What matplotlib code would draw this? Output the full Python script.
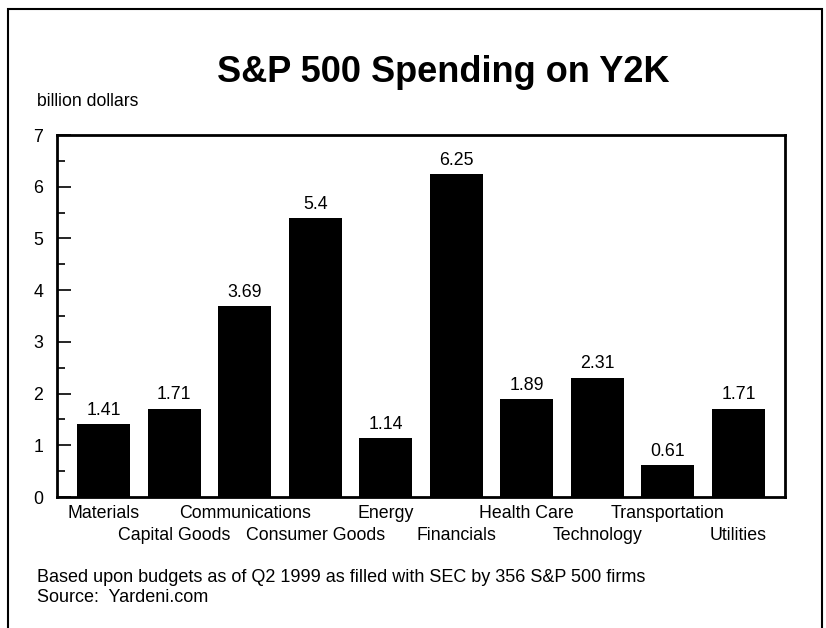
import matplotlib
matplotlib.use("Agg")
import matplotlib.pyplot as plt
from matplotlib.patches import Rectangle
from matplotlib.transforms import blended_transform_factory
import numpy as np

plt.rcParams['font.family'] = ['Liberation Sans', 'DejaVu Sans']

categories = ["Materials", "Capital Goods", "Communications", "Consumer Goods", "Energy",
              "Financials", "Health Care", "Technology", "Transportation", "Utilities"]
values = [1.41, 1.71, 3.69, 5.4, 1.14, 6.25, 1.89, 2.31, 0.61, 1.71]
value_labels = ["1.41", "1.71", "3.69", "5.4", "1.14", "6.25", "1.89", "2.31", "0.61", "1.71"]
yticks = [0, 1, 2, 3, 4, 5, 6, 7]

W, H = 826, 628
fig = plt.figure(figsize=(W / 100, H / 100), dpi=100)

# figure frame (left, top, right)
fig.add_artist(Rectangle((8 / W, -0.05), (822 - 8) / W, (H - 9) / H + 0.05,
                         transform=fig.transFigure, fill=False, lw=1.5, ec='black'))

ax_left, ax_right, ax_top, ax_bottom = 57, 785, 135, 497
ax = fig.add_axes([ax_left / W, 1 - ax_bottom / H, (ax_right - ax_left) / W, (ax_bottom - ax_top) / H])

x = np.arange(len(categories))
ax.bar(x, values, width=0.75, color='black')
ax.set_xlim(-0.66, len(categories) - 1 + 0.66)
ax.set_ylim(0, 7)

for xi, v, lab in zip(x, values, value_labels):
    ax.text(xi, v + 0.1, lab, ha='center', va='bottom', fontsize=12.8)

ax.set_yticks(yticks)
ax.set_yticks(np.arange(0.5, 7, 1), minor=True)
ax.tick_params(axis='y', which='major', direction='in', length=10, width=1.2, labelsize=12.8, pad=10)
ax.tick_params(axis='y', which='minor', direction='in', length=6, width=1.2)
ax.set_xticks([])
for s in ax.spines.values():
    s.set_linewidth(2)

# category labels in two rows
trans = blended_transform_factory(ax.transData, fig.transFigure)
for i, c in enumerate(categories):
    yoff = 513 if i % 2 == 0 else 535
    ax.text(i, 1 - yoff / H, c, ha='center', va='center', fontsize=12.8, transform=trans)

fig.text(443 / W, 1 - 73 / H, "S&P 500 Spending on Y2K", ha='center', va='center',
         fontsize=26, fontweight='bold')
fig.text(37 / W, 1 - 101 / H, "billion dollars", ha='left', va='center', fontsize=12.7)
fig.text(37 / W, 1 - 577 / H, "Based upon budgets as of Q2 1999 as filled with SEC by 356 S&P 500 firms",
         ha='left', va='center', fontsize=13)
fig.text(37 / W, 1 - 598 / H, "Source:  Yardeni.com", ha='left', va='center', fontsize=13)

fig.savefig("out.png", dpi=100)
